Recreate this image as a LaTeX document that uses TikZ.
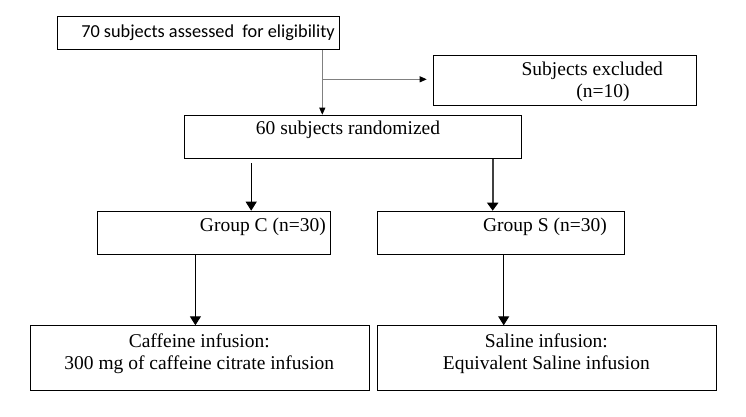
\documentclass[tikz,border=0pt]{standalone}
\usepackage{fontspec}
\setmainfont{Liberation Serif}
\newfontfamily\calib{Carlito}
\usetikzlibrary{arrows.meta}
\definecolor{lgray}{RGB}{128,128,128}
\definecolor{dgray}{RGB}{64,64,64}
\begin{document}
\begin{tikzpicture}[x=1pt,y=-1pt,
  box/.style={draw=black, line width=1pt, rectangle, inner sep=0pt, anchor=north west},
  txt/.style={inner sep=0pt, font=\fontsize{19.5}{21.6}\selectfont},
  smallarrow/.style={draw=lgray, line width=0.9pt, -{Triangle[length=7pt,width=6pt,color=black]}},
  bigarrow/.style={draw=black, line width=1pt, -{Triangle[length=9pt,width=11pt]}},
  thickarrow/.style={draw=dgray, line width=2pt, -{Triangle[length=8pt,width=11pt,color=black]}}]
\useasboundingbox (0,0) rectangle (746,416);
\fill[white] (0,0) rectangle (746,416);
% boxes
\node[box, minimum width=282pt, minimum height=33pt] (b1) at (57,16) {};
\node[box, minimum width=263pt, minimum height=50.3pt] (excl) at (432.7,54.7) {};
\node[box, minimum width=337pt, minimum height=43pt] (rand) at (183.8,114.7) {};
\node[box, minimum width=232.7pt, minimum height=43.3pt] (gc) at (97.3,210.7) {};
\node[box, minimum width=247pt, minimum height=43.3pt] (gs) at (377,210.7) {};
\node[box, minimum width=338.3pt, minimum height=64.7pt] (caf) at (30.2,325.3) {};
\node[box, minimum width=339.2pt, minimum height=64.7pt] (sal) at (376.8,325.3) {};
% texts
\node[txt, anchor=east, font=\calib\fontsize{18.3}{22}\selectfont] (t1) at (335,33) {70 subjects assessed\ \ for eligibility};
\node[txt] (t2) at (592.3,70.7) {Subjects excluded};
\node[txt] (t3) at (603,93.3) {(n=10)};
\node[txt] (t4) at (348,129.5) {60 subjects randomized};
\node[txt, anchor=east] (t5) at (326,227.3) {Group C (n=30)};
\node[txt, anchor=east] (t6) at (607,227.3) {Group S (n=30)};
\node[txt, align=center] (t7) at (199.3,353.5) {Caffeine infusion:\\300 mg of caffeine citrate infusion};
\node[txt, align=center] (t8) at (546.4,353.5) {Saline infusion:\\Equivalent Saline infusion};
% connectors
\coordinate (split) at (322.3,79.3);
\coordinate (ca) at (251.2,163.3);
\coordinate (sa) at (492.7,0);
\coordinate (cb) at (195.4,0);
\coordinate (sb) at (503.7,0);
\draw[draw=lgray, line width=0.9pt] (b1.south -| split) -- (split);
\draw[smallarrow] (split) -- (split |- rand.north);
\draw[smallarrow, shorten >=6pt] (split) -- (excl.west |- split);
\draw[bigarrow] (ca) -- (ca |- gc.north);
\draw[thickarrow] (rand.south -| sa) -- (gs.north -| sa);
\draw[bigarrow] (gc.south -| cb) -- (caf.north -| cb);
\draw[bigarrow] (gs.south -| sb) -- (sal.north -| sb);
\end{tikzpicture}
\end{document}
